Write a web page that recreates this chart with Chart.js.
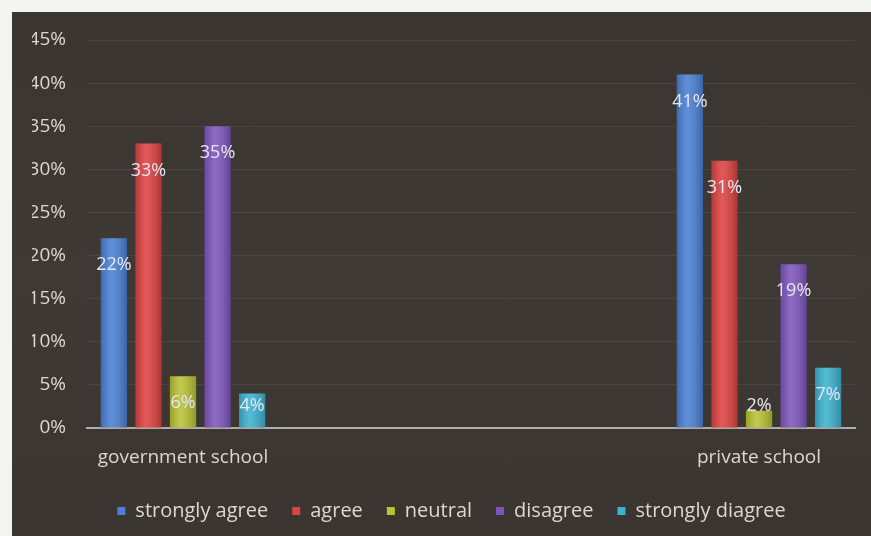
<!DOCTYPE html>
<html>
<head>
<meta charset="utf-8">
<script src="https://cdn.jsdelivr.net/npm/chart.js@4/dist/chart.umd.min.js"></script>
<style>
  html, body { margin: 0; padding: 0; background: #f4f4f2; }
  #wrap {
    position: absolute; left: 12px; top: 12px; width: 859px; height: 524px;
    background: linear-gradient(180deg, #3a3531 0%, #3e3935 50%, #3a3531 100%);
  }
</style>
</head>
<body>
<div id="wrap"><canvas id="grafico"></canvas></div>
<script>
// categorias (as duas do meio ficam vazias para espaçar os grupos como no original)
let categorias = ["government school", "", "", "private school"];
let series = ["strongly agree", "agree", "neutral", "disagree", "strongly diagree"];
let cores = ["#4a80d4", "#dc4240", "#b8c234", "#7d55bc", "#3cb2cf"];

// valores em %
let stronglyAgree = [22, null, null, 41];
let agree = [33, null, null, 31];
let neutral = [6, null, null, 2];
let disagree = [35, null, null, 19];
let stronglyDiagree = [4, null, null, 7];

let valores = [stronglyAgree, agree, neutral, disagree, stronglyDiagree];
let corTexto = "#dcd8d0";
let fonte = "'Open Sans', Lato, sans-serif";

// brilho de cilindro + rótulos dentro das barras
const rotulos = {
    id: "rotulos",
    afterDatasetsDraw(chart) {
        let ctx = chart.ctx;
        let base = chart.scales.y.getPixelForValue(0);
        ctx.save();
        chart.data.datasets.forEach((ds, i) => {
            chart.getDatasetMeta(i).data.forEach((bar, j) => {
                if (ds.data[j] === null) return;
                let x0 = bar.x - bar.width / 2;
                let g = ctx.createLinearGradient(x0, 0, x0 + bar.width, 0);
                g.addColorStop(0, "rgba(0,0,0,0.18)");
                g.addColorStop(0.4, "rgba(255,255,255,0.12)");
                g.addColorStop(1, "rgba(0,0,0,0.22)");
                ctx.fillStyle = g;
                ctx.fillRect(x0, bar.y, bar.width, bar.base - bar.y);
            });
        });
        ctx.font = "18px " + fonte;
        ctx.fillStyle = "#e8e6ee";
        ctx.textAlign = "center";
        ctx.textBaseline = "middle";
        chart.data.datasets.forEach((ds, i) => {
            chart.getDatasetMeta(i).data.forEach((bar, j) => {
                let v = ds.data[j];
                if (v === null) return;
                let y = Math.min(bar.y + 27, base - 22);
                ctx.fillText(v + "%", bar.x, y);
            });
        });
        ctx.restore();
    }
};

new Chart(document.getElementById("grafico"), {
    type: "bar",
    data: {
        labels: categorias,
        datasets: series.map((nome, i) => ({
            label: nome,
            data: valores[i],
            backgroundColor: cores[i],
            borderWidth: 0,
            barPercentage: 0.76,
            categoryPercentage: 0.9
        }))
    },
    options: {
        responsive: true,
        maintainAspectRatio: false,
        animation: false,
        layout: { padding: { top: 28, right: 0, left: 20, bottom: 5 } },
        plugins: {
            tooltip: { enabled: false },
            legend: {
                position: "bottom",
                labels: {
                    color: corTexto,
                    font: { size: 20, family: fonte },
                    boxWidth: 8,
                    boxHeight: 8,
                    padding: 24
                }
            }
        },
        scales: {
            x: {
                grid: { display: false },
                border: { color: "#b0aca4", width: 2 },
                ticks: {
                    color: corTexto,
                    font: { size: 19, family: fonte },
                    maxRotation: 0,
                    autoSkip: false,
                    padding: 10
                },
                afterFit: s => { s.height = 49; }
            },
            y: {
                min: 0,
                max: 45,
                ticks: {
                    stepSize: 5,
                    color: corTexto,
                    font: { size: 19, family: fonte },
                    padding: 21,
                    callback: v => v + "%"
                },
                grid: { color: "rgba(255,255,255,0.07)", drawTicks: false },
                border: { display: false },
                afterFit: s => { s.width = 55; s.paddingTop = 0; }
            },
            // eixo vazio à direita só para deixar a margem
            y2: {
                position: "right",
                grid: { display: false },
                ticks: { display: false },
                border: { display: false },
                afterFit: s => { s.width = 16; }
            }
        }
    },
    plugins: [rotulos]
});
</script>
</body>
</html>
